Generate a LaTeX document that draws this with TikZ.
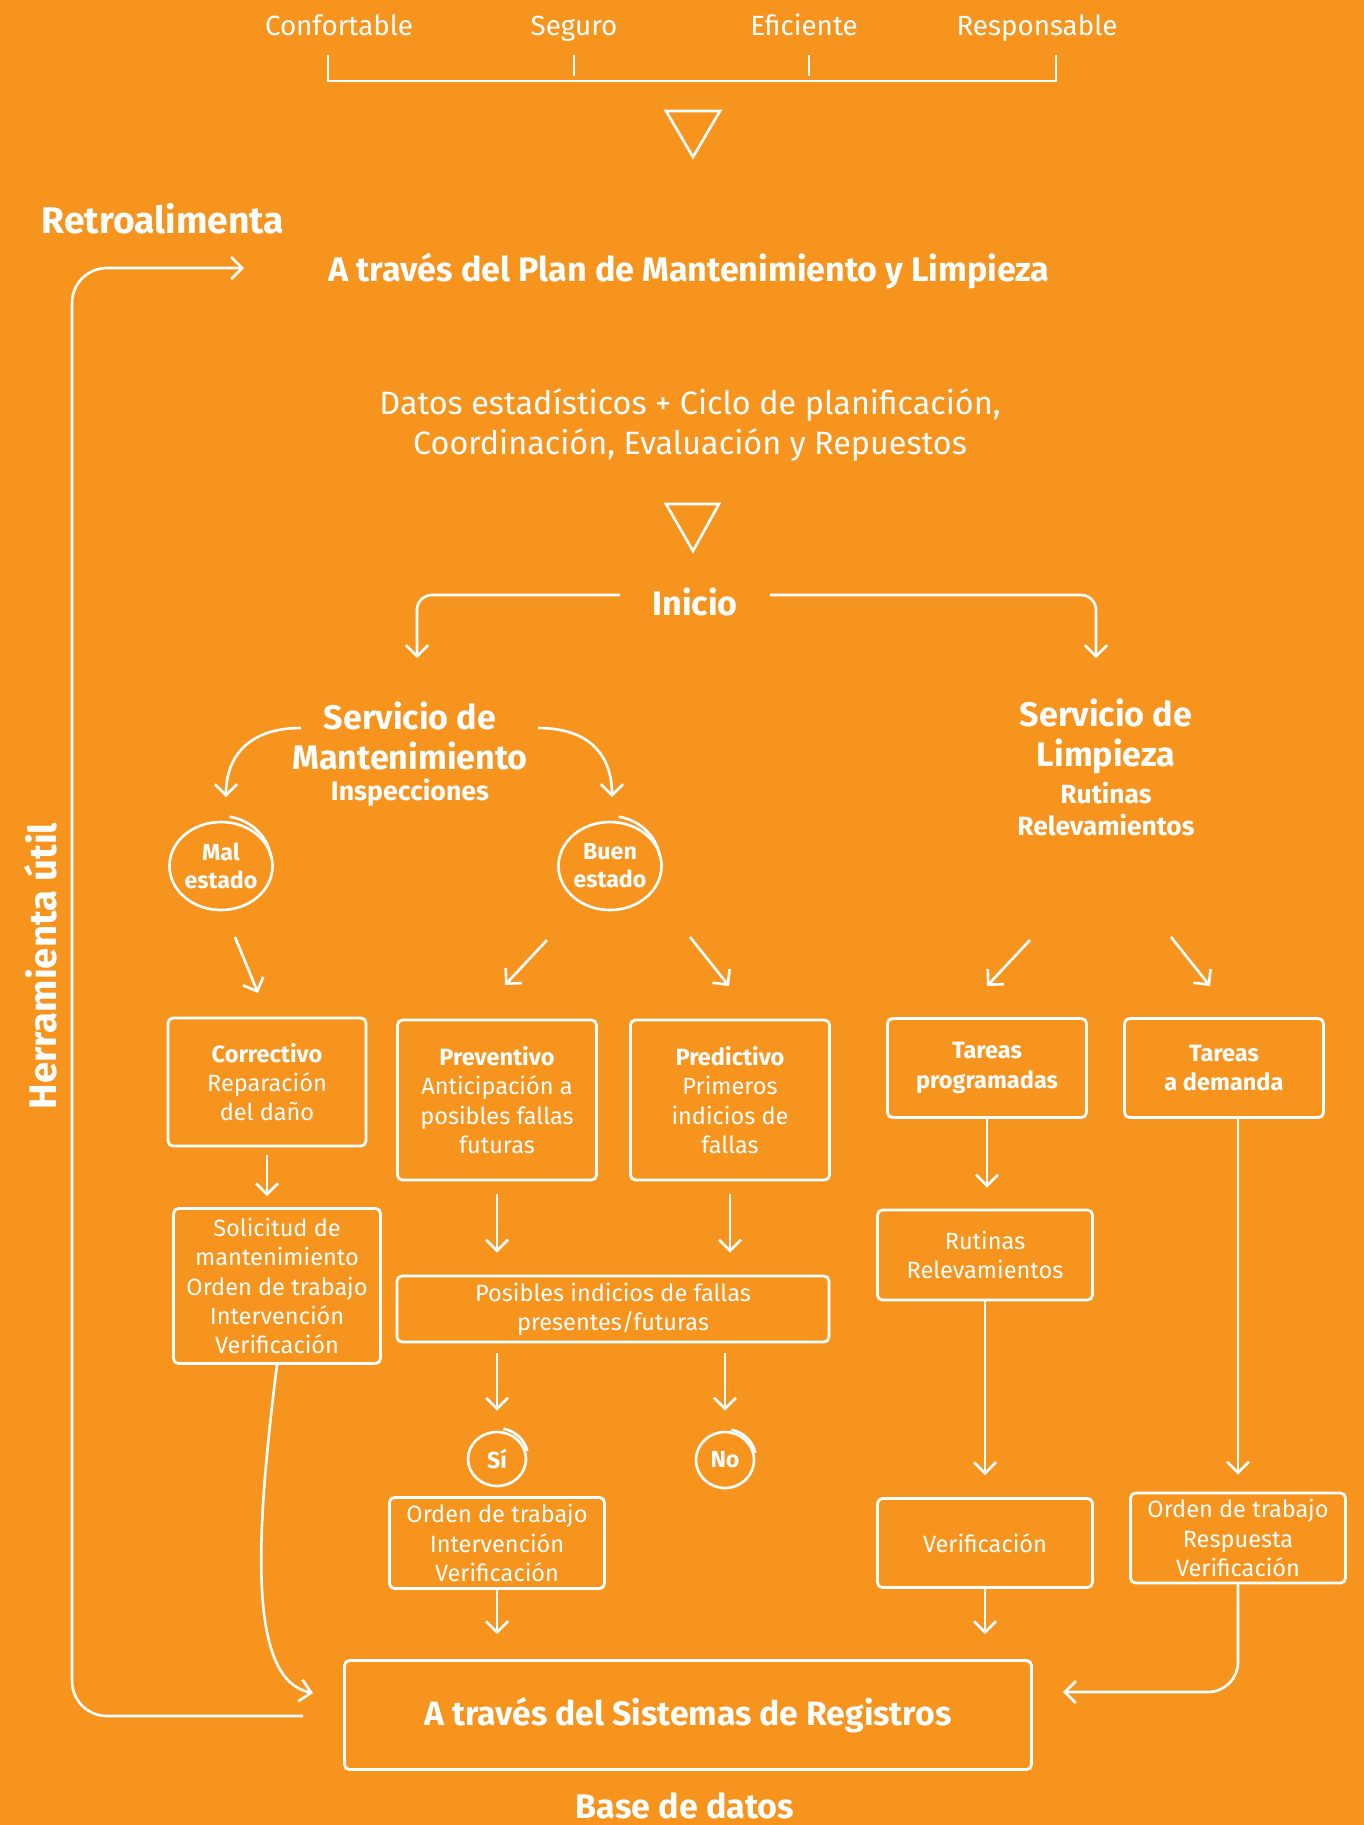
\documentclass[tikz,border=0pt]{standalone}
\usepackage{fontspec}
\setmainfont{Fira Sans}
\newfontfamily\narrowfont[FakeStretch=0.86]{Fira Sans}
\usetikzlibrary{arrows.meta,shapes.geometric}
\definecolor{bgorange}{HTML}{F7941E}

\begin{document}
\begin{tikzpicture}[x=0.1mm,y=-0.1mm,
    line/.style={draw=white, line width=0.75pt},
    arr/.style={line, -{Straight Barb[length=1.1mm,width=2.2mm]}},
    box/.style={draw=white, line width=0.8pt, rounded corners=0.5mm, inner sep=0pt,
      align=center, text=white, font=\fontsize{6.7}{8.3}\selectfont},
    ring/.style={ellipse, draw=white, line width=0.75pt, inner sep=0pt, align=center,
      text=white, font=\bfseries\fontsize{6.6}{7.9}\selectfont},
    label/.style={text=white, align=center, inner sep=0pt},
    head/.style={label, font=\bfseries\fontsize{9.7}{11.4}\selectfont},
    word/.style={label, anchor=base, font=\fontsize{7.9}{9}\selectfont}
]
\useasboundingbox (0,0) rectangle (1364,1825);
\fill[bgorange] (0,0) rectangle (1364,1825);

% top values
\node[word] (conf) at (339,35) {Confortable};
\node[word] (seg) at (574,35) {Seguro};
\node[word] (efi) at (804,35) {Eficiente};
\node[word] (resp) at (1037,35) {Responsable};
\draw[line] (328,55) -- (328,81) -- (1056,81) -- (1056,55);
\draw[line] (574,55) -- (574,76);
\draw[line] (809,55) -- (809,76);
\draw[line] (666,111) -- (720,111) -- (693,157) -- cycle;

% plan
\node[head, font=\bfseries\fontsize{10.6}{12}\selectfont] (retro) at (163,219) {Retroalimenta};
\node[head] (plan) at (689,271) {A través del Plan de Mantenimiento y Limpieza};
\node[label, font=\fontsize{9.2}{11.4}\selectfont] (datos) at (690,425)
  {Datos estadísticos + Ciclo de planificación,\\Coordinación, Evaluación y Repuestos};
\draw[line] (666,504) -- (719,504) -- (693,551) -- cycle;
\node[head] (inicio) at (695,602) {Inicio};

\coordinate (inL) at (620,595);
\coordinate (mantTop) at (417,658);
\coordinate (inR) at (770,595);
\coordinate (limpTop) at (1096,658);
\draw[arr, rounded corners=1.5mm] (inL) -| (mantTop);
\draw[arr, rounded corners=1.5mm] (inR) -| (limpTop);

% services
\node[head] (mant) at (410,736) {Servicio de\\Mantenimiento};
\node[label, font=\bfseries\fontsize{7.6}{8}\selectfont] (insp) at (410,793) {Inspecciones};
\node[head] (limp) at (1106,736) {Servicio de\\Limpieza};
\node[label, font=\bfseries\fontsize{7.5}{9.1}\selectfont] (rutl) at (1106,809) {Rutinas\\Relevamientos};

\coordinate (ml1) at (301,728);
\coordinate (ml2) at (226,797);
\coordinate (mr1) at (538,728);
\coordinate (mr2) at (612,797);
\draw[arr] (ml1) .. controls (245,728) and (226,760) .. (ml2);
\draw[arr] (mr1) .. controls (594,728) and (612,760) .. (mr2);

% state rings
\node[ring, minimum width=9.6mm, minimum height=8.8mm] (mal) at (221,866) {Mal\\estado};
\node[ring, minimum width=9.5mm, minimum height=8.8mm] (buen) at (610,866) {Buen\\estado};
\draw[line] ([shift={(-80:50)}]mal.center) arc[start angle=-80, end angle=-8, x radius=50, y radius=46];
\draw[line] ([shift={(-80:50)}]buen.center) arc[start angle=-80, end angle=-8, x radius=50, y radius=46];

\coordinate (a1) at (235,937);
\coordinate (a2) at (258,993);
\coordinate (b1) at (547,940);
\coordinate (b2) at (505,985);
\coordinate (c1) at (690,937);
\coordinate (c2) at (729,986);
\coordinate (d1) at (1030,940);
\coordinate (d2) at (987,986);
\coordinate (e1) at (1171,937);
\coordinate (e2) at (1210,986);
\draw[arr] (a1) -- (a2);
\draw[arr] (b1) -- (b2);
\draw[arr] (c1) -- (c2);
\draw[arr] (d1) -- (d2);
\draw[arr] (e1) -- (e2);

% maintenance boxes
\node[box, minimum width=19.8mm, minimum height=12.8mm] (corr) at (267,1082)
  {\bfseries Correctivo\\Reparación\\del daño};
\node[box, minimum width=19.9mm, minimum height=16mm] (prev) at (497,1100)
  {\bfseries Preventivo\\Anticipación a\\posibles fallas\\futuras};
\node[box, minimum width=19.9mm, minimum height=16mm] (pred) at (730,1100)
  {\bfseries Predictivo\\Primeros\\indicios de\\fallas};
\node[box, minimum width=20.7mm, minimum height=15.5mm] (solic) at (277,1286)
  {Solicitud de\\mantenimiento\\Orden de trabajo\\Intervención\\Verificación};
\node[box, minimum width=43.2mm, minimum height=6.6mm] (posib) at (613,1309)
  {Posibles indicios de fallas\\presentes/futuras};
\node[ring, minimum width=5.8mm, minimum height=5.4mm] (si) at (497,1459) {Sí};
\node[ring, minimum width=5.8mm, minimum height=5.6mm] (no) at (725,1460) {No};
\draw[line] ([shift={(-78:31)}]si.center) arc[start angle=-78, end angle=-12, x radius=31, y radius=29];
\draw[line] ([shift={(-78:31)}]no.center) arc[start angle=-78, end angle=-12, x radius=31, y radius=30];
\node[box, minimum width=21.5mm, minimum height=9.1mm] (ordsi) at (497,1543)
  {Orden de trabajo\\Intervención\\Verificación};

% cleaning boxes
\node[box, minimum width=19.9mm, minimum height=9.9mm] (prog) at (987,1068)
  {\bfseries Tareas\\\bfseries programadas};
\node[box, minimum width=19.9mm, minimum height=9.9mm] (dem) at (1224,1068)
  {\bfseries Tareas\\\bfseries a demanda};
\node[box, minimum width=21.5mm, minimum height=9mm] (rut) at (985,1255)
  {Rutinas\\Relevamientos};
\node[box, minimum width=21.5mm, minimum height=8.9mm] (verif) at (985,1543) {Verificación};
\node[box, minimum width=21.5mm, minimum height=9mm] (ordres) at (1238,1538)
  {Orden de trabajo\\Respuesta\\Verificación};

% registers
\node[box, minimum width=68.7mm, minimum height=10.9mm, font=\bfseries\fontsize{9.6}{11}\selectfont] (reg) at (688,1715)
  {A través del Sistemas de Registros};
\node[head] (base) at (685,1806) {Base de datos};
\node[head, rotate=90, font=\bfseries\fontsize{10.9}{12}\selectfont] (herr) at (41,966) {Herramienta útil};

% connectors
\draw[arr, shorten <=0.8mm, shorten >=1.1mm] (corr.south) -- (corr.south |- solic.north);
\draw[arr, shorten <=1.3mm, shorten >=2.2mm] (prev.south) -- (prev.south |- posib.north);
\draw[arr, shorten <=1.3mm, shorten >=2.2mm] (pred.south) -- (pred.south |- posib.north);
\draw[arr, shorten <=1mm, shorten >=2mm] (posib.south -| si.north) -- (si.north);
\draw[arr, shorten <=1mm, shorten >=2mm] (posib.south -| no.north) -- (no.north);
\draw[arr, shorten >=2.5mm] (ordsi.south) -- (ordsi.south |- reg.north);
\draw[arr, shorten >=2.1mm] (prog.south) -- (prog.south |- rut.north);
\draw[arr, shorten >=2.2mm] (rut.south) -- (rut.south |- verif.north);
\draw[arr, shorten >=2.5mm] (verif.south) -- (verif.south |- reg.north);
\draw[arr, shorten >=1.7mm] (ordres.north |- dem.south) -- (ordres.north);

\coordinate (rtip) at (1063,1692);
\coordinate (ltip) at (313,1693);
\coordinate (looptop) at (244,268);
\coordinate (loopbot) at (303,1716);
\coordinate (loopx) at (72,0);
\draw[arr, rounded corners=3mm] (ordres.south) |- (rtip);
\draw[arr] (solic.south) .. controls (255,1540) and (248,1680) .. (ltip);
\draw[arr, {Straight Barb[length=1.1mm,width=2.2mm]}-, rounded corners=3.5mm]
  (looptop) -- (looptop -| loopx) -- (loopbot -| loopx) -- (loopbot);
\end{tikzpicture}
\end{document}
